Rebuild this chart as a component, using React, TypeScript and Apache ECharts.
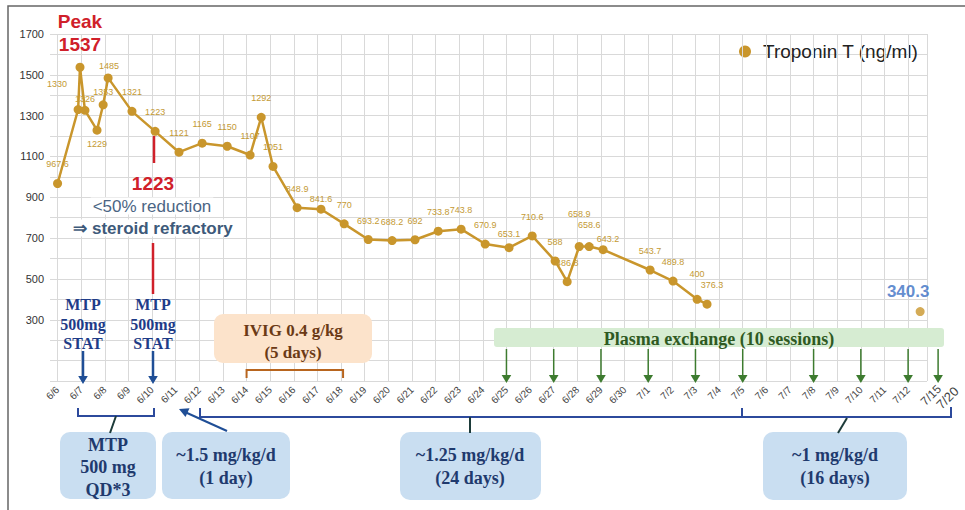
import React, { useEffect, useRef } from "react";
import * as echarts from "echarts";

// ---------- data ----------
const tickLabels = [
  "6/6", "6/7", "6/8", "6/9", "6/10", "6/11", "6/12", "6/13", "6/14", "6/15",
  "6/16", "6/17", "6/18", "6/19", "6/20", "6/21", "6/22", "6/23", "6/24", "6/25",
  "6/26", "6/27", "6/28", "6/29", "6/30", "7/1", "7/2", "7/3", "7/4", "7/5",
  "7/6", "7/7", "7/8", "7/9", "7/10", "7/11", "7/12",
];
const extraTickLabels = ["7/15", "7/20"];
// measurement time, in days after 6/6
const measureDay = [
  0, 0.87, 0.95, 1.16, 1.67, 1.93, 2.14, 3.15, 4.13, 5.14, 6.12, 7.18, 8.15, 8.62,
  9.12, 10.14, 11.15, 12.13, 13.15, 14.16, 15.13, 16.11, 17.08, 18.1, 19.11, 20.09,
  21.06, 21.57, 22.08, 22.5, 23.09, 25.08, 26.05, 27.07, 27.49,
];
const troponin = [
  967.6, 1330, 1537, 1326, 1229, 1353, 1485, 1321, 1223, 1121, 1165, 1150, 1107, 1292,
  1051, 848.9, 841.6, 770, 693.2, 688.2, 692, 733.8, 743.8, 670.9, 653.1, 710.6,
  588, 486.8, 658.9, 658.6, 643.2, 543.7, 489.8, 400, 376.3,
];
const lateDay = [36.51];
const lateTroponin = [340.3];
const yTickLabels = [300, 500, 700, 900, 1100, 1300, 1500, 1700];
const mtpStatDates = ["6/7", "6/10"];
const plasmaSessionDates = ["6/25", "6/27", "6/29", "7/1", "7/3", "7/5", "7/8", "7/10", "7/12", "7/15"];
const seriesName = "Troponin T (ng/ml)";

// ---------- layout ----------
const GRID_L = 50;
const GRID_R = 927;
const GRID_T = 34;
const GRID_B = 381;
const X_MIN = -0.32;
const X_MAX = 36.8;
const extraTickPos: Record<string, number> = { "7/15": 37.27, "7/20": 38.0 };
const dayOf = (label: string) => {
  const i = tickLabels.indexOf(label);
  return i >= 0 ? i : extraTickPos[label];
};
const xPx = (d: number) => GRID_L + ((d - X_MIN) / (X_MAX - X_MIN)) * (GRID_R - GRID_L);

const GOLD = "#C9962C";
const GOLD_TXT = "#C49A34";
const RED = "#D0202A";
const NAVY = "#1F3C88";
const SERIF = '"Liberation Serif", "Times New Roman", serif';
const SANS = '"Liberation Sans", Arial, sans-serif';

const labelTweaks: Record<number, any> = {
  1: { offset: [-21, -7] },
  3: { offset: [0, 8] },
  4: { position: "bottom", distance: 5 },
  5: { offset: [0, 6] },
  6: { offset: [1, 7] },
  16: { offset: [0, 9] },
  24: { offset: [0, 5] },
  28: { offset: [0, -14] },
  29: { offset: [0, -3] },
  30: { offset: [5, 8] },
  33: { offset: [0, -6] },
  34: { offset: [5, 0] },
};

function txt(x: number, y: number, text: string, font: string, fill: string, extra: any = {}) {
  return {
    type: "text",
    x,
    y,
    z: 20,
    style: {
      text,
      font,
      fill,
      align: "center",
      verticalAlign: "middle",
      textAlign: "center",
      textVerticalAlign: "middle",
      ...extra,
    },
  };
}
function ln(x1: number, y1: number, x2: number, y2: number, stroke: string, lineWidth = 2) {
  return { type: "line", z: 20, shape: { x1, y1, x2, y2 }, style: { stroke, lineWidth } };
}
function downArrow(x: number, yTop: number, yTip: number, color: string, w: number, head: number) {
  return [
    ln(x, yTop, x, yTip - head + 1, color, w),
    {
      type: "polygon",
      z: 20,
      shape: { points: [[x - head * 0.6, yTip - head], [x + head * 0.6, yTip - head], [x, yTip]] },
      style: { fill: color },
    },
  ];
}
function box(x: number, y: number, w: number, h: number, fill: string, r = 10) {
  return { type: "rect", z: 15, shape: { x, y, width: w, height: h, r }, style: { fill } };
}

export default function App() {
  const ref = useRef<HTMLDivElement>(null);
  useEffect(() => {
    if (!ref.current) return;
    const chart = echarts.init(ref.current, undefined, { renderer: "svg" });

    const mainData = measureDay.map((d, i) => {
      const item: any = { value: [d, troponin[i]] };
      if (labelTweaks[i]) item.label = { ...labelTweaks[i] };
      if (troponin[i] === Math.max(...troponin)) {
        item.label = {
          show: true,
          position: "top",
          distance: 7,
          formatter: (p: any) => "Peak\n" + p.value[1],
          color: RED,
          fontSize: 19,
          fontWeight: "bold",
          lineHeight: 23,
        };
      }
      return item;
    });

    const bfont = (s: number) => `bold ${s}px ${SERIF}`;
    const boxBlue = "#C9DEF1";
    const boxText = "#1F3A6E";
    const bracketBlue = "#2C4A9C";
    const stemCol = "#1D3B3A";
    const green = "#3D7B2F";

    const graphic: any[] = [
      // frame
      { type: "rect", z: 30, shape: { x: 8, y: 6, width: 1100, height: 700 }, style: { fill: "none", stroke: "#666", lineWidth: 1.5 } },
      // leader line of first label
      ln(62, 168, 59, 180, GOLD, 1),
      // red annotation
      ln(154, 136, 154, 163, RED, 2.5),
      txt(153, 183, "1223", `bold 19px ${SANS}`, RED),
      txt(152, 206, "<50% reduction", `17px ${SANS}`, "#4B6584", { backgroundColor: "#fff", padding: [0, 2] }),
      txt(153, 228, "\u21D2 steroid refractory", `bold 17px ${SANS}`, "#3E5A7A", { backgroundColor: "#fff", padding: [0, 2] }),
      ln(153, 243, 153, 294, RED, 2.5),
      // IVIG
      box(214, 314, 158, 49, "#FCE3CB", 9),
      txt(293, 330, "IVIG 0.4 g/kg", bfont(17), "#6B3A16"),
      txt(293, 352, "(5 days)", bfont(17), "#6B3A16"),
      {
        type: "polyline",
        z: 20,
        shape: { points: [[xPx(dayOf("6/14")), 378], [xPx(dayOf("6/14")), 370], [xPx(dayOf("6/18")) + 2, 370], [xPx(dayOf("6/18")) + 2, 378]] },
        style: { stroke: "#B8651E", lineWidth: 2, fill: "none" },
      },
      // plasma exchange
      box(494, 328, 450, 19, "#D6ECD2", 3),
      txt(719, 339, "Plasma exchange (10 sessions)", bfont(18), "#2F5A22"),
      // 7/15 and 7/20 tick labels
      {
        type: "text",
        z: 20,
        x: xPx(dayOf(extraTickLabels[0])) + 1,
        y: 387,
        rotation: Math.PI / 4,
        style: { text: extraTickLabels[0], font: `12px ${SANS}`, fill: "#444", align: "right", verticalAlign: "middle", textAlign: "right", textVerticalAlign: "middle" },
      },
      {
        type: "text",
        z: 20,
        x: xPx(dayOf(extraTickLabels[1])) + 1,
        y: 389,
        rotation: Math.PI / 4,
        style: { text: extraTickLabels[1], font: `13px ${SANS}`, fill: "#444", align: "right", verticalAlign: "middle", textAlign: "right", textVerticalAlign: "middle" },
      },
      // bottom: MTP bracket
      {
        type: "polyline",
        z: 20,
        shape: { points: [[78, 408], [78, 416], [154, 416], [154, 408]] },
        style: { stroke: bracketBlue, lineWidth: 2, fill: "none" },
      },
      ln(116, 416, 110, 433, stemCol, 2),
      box(60, 432, 96, 67, boxBlue),
      txt(108, 445, "MTP", bfont(18), boxText),
      txt(108, 467, "500 mg", bfont(18), boxText),
      txt(108, 490, "QD*3", bfont(18), boxText),
      // ~1.5
      box(162, 432, 128, 67, boxBlue),
      txt(226, 455, "~1.5 mg/kg/d", bfont(18), boxText),
      txt(226, 478, "(1 day)", bfont(18), boxText),
      ln(227, 431, 186, 412.5, "#1F4E96", 2),
      { type: "polygon", z: 20, shape: { points: [[179, 409], [189.5, 408.3], [185.5, 417]] }, style: { fill: "#1F4E96" } },
      // long bracket
      {
        type: "polyline",
        z: 20,
        shape: { points: [[200, 408], [200, 417], [951, 417], [951, 407]] },
        style: { stroke: bracketBlue, lineWidth: 2, fill: "none" },
      },
      ln(742, 417, 742, 408, bracketBlue, 2),
      ln(470, 417, 470, 433, stemCol, 2),
      ln(847, 418, 838, 433, stemCol, 2),
      box(400, 432, 141, 68, boxBlue),
      txt(470, 455, "~1.25 mg/kg/d", bfont(18), boxText),
      txt(470, 478, "(24 days)", bfont(18), boxText),
      box(763, 432, 144, 68, boxBlue),
      txt(835, 455, "~1 mg/kg/d", bfont(18), boxText),
      txt(835, 478, "(16 days)", bfont(18), boxText),
    ];

    mtpStatDates.forEach((dt, k) => {
      const x = k === 0 ? 83 : 153;
      graphic.push(txt(x, 304, "MTP", bfont(16), NAVY));
      graphic.push(txt(x, 324, "500mg", bfont(16), NAVY));
      graphic.push(txt(x, 343, "STAT", bfont(16), NAVY));
      graphic.push(...downArrow(x, 351, 384, "#1F4E96", 2.5, 8));
    });
    plasmaSessionDates.forEach((dt) => {
      const x = xPx(dayOf(dt));
      graphic.push(...downArrow(x, 349, 383, green, 1.5, 8));
    });

    chart.setOption({
      animation: false,
      backgroundColor: "#fff",
      textStyle: { fontFamily: SANS },
      grid: { left: GRID_L, right: 965 - GRID_R, top: GRID_T, bottom: 510 - GRID_B, containLabel: false },
      legend: {
        data: [seriesName],
        left: 739,
        top: 42,
        padding: 0,
        icon: "circle",
        itemWidth: 12,
        itemHeight: 12,
        itemGap: 5,
        textStyle: { fontSize: 19, color: "#222", fontFamily: SANS, padding: [0, 0, 0, 7] },
      },
      xAxis: {
        type: "value",
        min: X_MIN,
        max: X_MAX,
        axisLine: { show: false },
        axisTick: { show: false },
        splitLine: { show: false },
        axisLabel: {
          customValues: tickLabels.map((_, i) => i),
          rotate: 45,
          margin: 7,
          fontSize: 10,
          color: "#444",
          formatter: (v: number) => tickLabels[Math.round(v)] ?? "",
        },
      },
      yAxis: {
        type: "value",
        min: 0,
        max: 1700,
        interval: 100,
        axisLine: { show: false },
        axisTick: { show: false },
        splitLine: { lineStyle: { color: "#D9D9D9", width: 1 } },
        axisLabel: {
          margin: 6,
          fontSize: 11,
          color: "#333",
          formatter: (v: number) => (yTickLabels.includes(v) ? String(v) : ""),
        },
      },
      series: [
        {
          type: "line",
          name: "vgrid",
          data: [],
          silent: true,
          z: 1,
          markLine: {
            silent: true,
            symbol: ["none", "none"],
            label: { show: false },
            lineStyle: { color: "#D9D9D9", width: 1, type: "solid" },
            emphasis: { disabled: true },
            data: [...tickLabels.map((_, i) => ({ xAxis: i })), { xAxis: X_MAX }],
          },
        },
        {
          type: "line",
          name: seriesName,
          data: mainData,
          z: 5,
          symbol: "circle",
          symbolSize: 9,
          color: GOLD,
          lineStyle: { color: GOLD, width: 2.5 },
          itemStyle: { color: GOLD },
          label: {
            show: true,
            position: "top",
            distance: 10,
            fontSize: 9,
            color: GOLD_TXT,
            formatter: (p: any) => String(p.value[1]),
          },
        },
        {
          type: "scatter",
          name: seriesName,
          data: lateDay.map((d, i) => [d, lateTroponin[i]]),
          z: 5,
          symbol: "circle",
          symbolSize: 9,
          itemStyle: { color: GOLD },
          label: {
            show: true,
            position: "top",
            distance: 7,
            offset: [-12, 0],
            fontSize: 17,
            fontWeight: "bold",
            color: "#3A6FC4",
            formatter: (p: any) => String(p.value[1]),
          },
        },
      ],
      graphic,
    });
    return () => chart.dispose();
  }, []);

  return (
    <div
      ref={ref}
      style={{ position: "fixed", left: 0, top: 0, width: 965, height: 510, background: "#fff" }}
    />
  );
}
